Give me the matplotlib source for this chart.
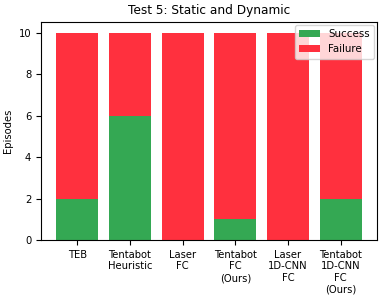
import numpy as np
import matplotlib
matplotlib.use('Agg')
import matplotlib.pyplot as plt

methods = ['TEB', 'Tentabot\nHeuristic', 'Laser\nFC', 'Tentabot\nFC\n(Ours)',
           'Laser\n1D-CNN\nFC', 'Tentabot\n1D-CNN\nFC\n(Ours)']
success = [2, 6, 0, 1, 0, 2]
failure = [8, 4, 10, 9, 10, 8]

fig, ax = plt.subplots(figsize=(3.82, 2.99), dpi=100)
x = np.arange(len(methods))
ax.bar(x, success, color='#34a853', label='Success')
ax.bar(x, failure, bottom=success, color='#ff303e', label='Failure')
ax.set_xticks(x)
ax.set_xticklabels(methods, fontsize=7.2, multialignment='center')
ax.tick_params(axis='y', labelsize=7.2)
ax.set_ylabel('Episodes', fontsize=7.2)
ax.set_title('Test 5: Static and Dynamic', fontsize=8.7)
ax.legend(fontsize=7.4, loc='upper right', borderaxespad=0.3)
fig.subplots_adjust(left=0.107, right=0.987, top=0.926, bottom=0.197)
fig.savefig('out.png')
